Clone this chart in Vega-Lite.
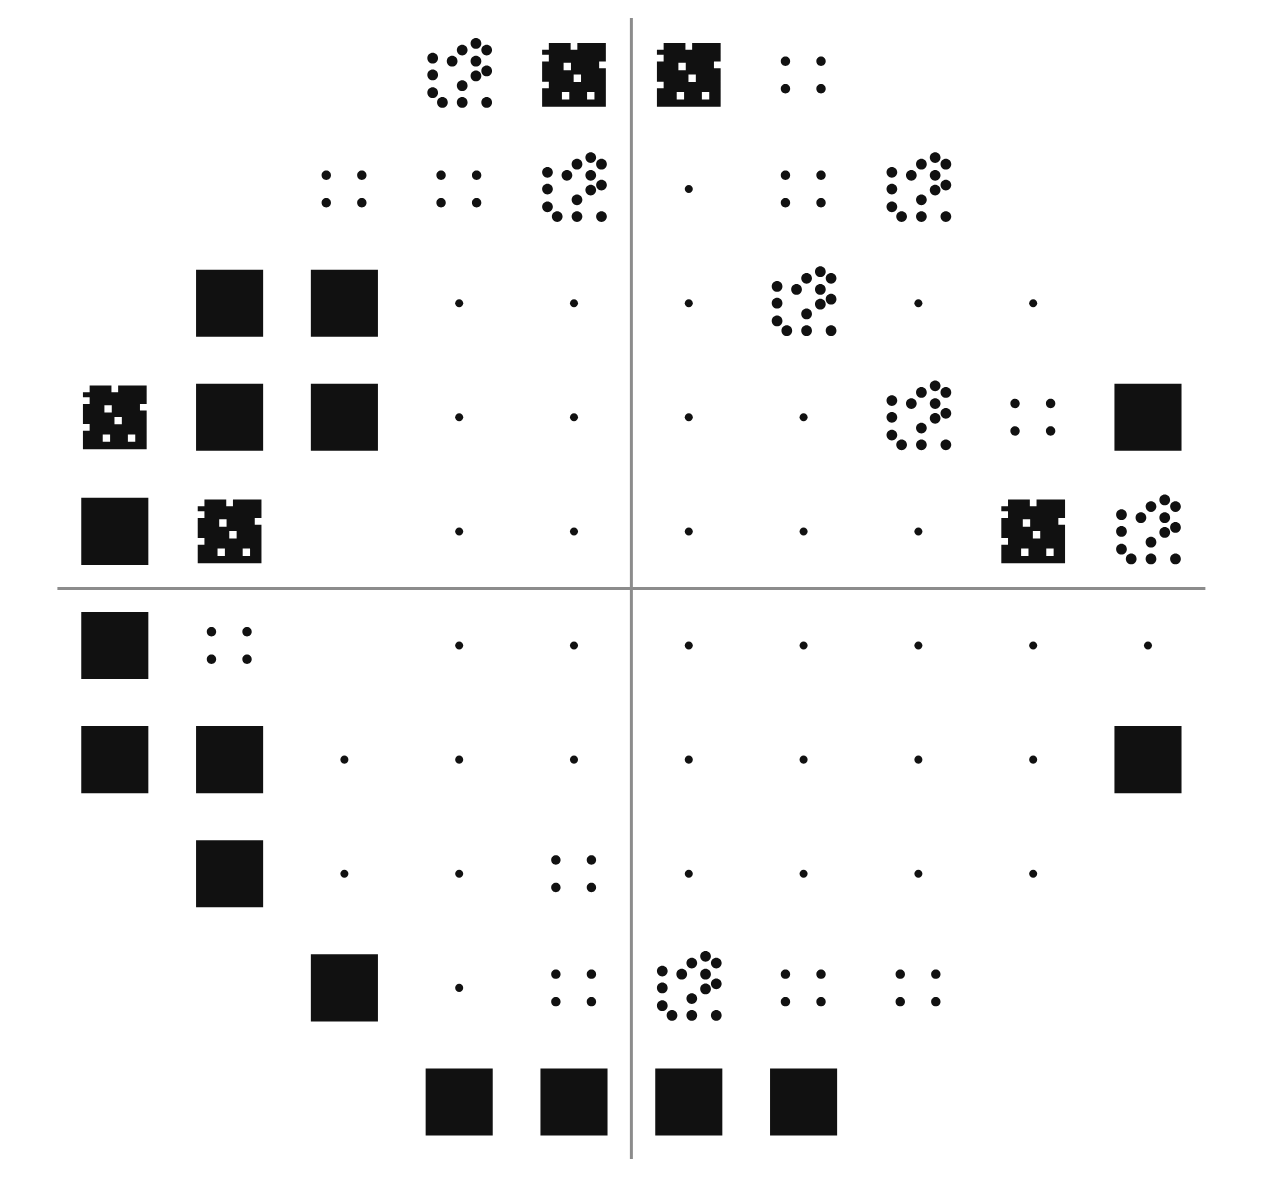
{
  "$schema": "https://vega.github.io/schema/vega-lite/v6.json",
  "width": 1280,
  "height": 1199,
  "autosize": {"type": "fit", "contains": "padding"},
  "padding": 0,
  "background": "white",
  "config": {"view": {"stroke": null}},
  "layer": [
    {
      "data": {"values": [{"x": 0, "y": -30, "x2": 0, "y2": 30}, {"x": -30, "y": 0, "x2": 30, "y2": 0}]},
      "mark": {"type": "rule", "color": "#8c8c8c", "strokeWidth": 3},
      "encoding": {
        "x": {"field": "x", "type": "quantitative", "scale": {"domain": [-33.0, 33.9], "nice": false, "zero": false}, "axis": null},
        "y": {"field": "y", "type": "quantitative", "scale": {"domain": [-32.1, 30.94], "nice": false, "zero": false}, "axis": null},
        "x2": {"field": "x2"},
        "y2": {"field": "y2"}
      }
    },
    {
      "data": {
        "values": [
          {"x": -9, "y": 27, "p": "b"}, {"x": -3, "y": 27, "p": "c"}, {"x": 3, "y": 27, "p": "c"}, {"x": 9, "y": 27, "p": "a"},
          {"x": -15, "y": 21, "p": "a"}, {"x": -9, "y": 21, "p": "a"}, {"x": -3, "y": 21, "p": "b"}, {"x": 3, "y": 21, "p": "n"}, {"x": 9, "y": 21, "p": "a"}, {"x": 15, "y": 21, "p": "b"},
          {"x": -21, "y": 15, "p": "d"}, {"x": -15, "y": 15, "p": "d"}, {"x": -9, "y": 15, "p": "n"}, {"x": -3, "y": 15, "p": "n"}, {"x": 3, "y": 15, "p": "n"}, {"x": 9, "y": 15, "p": "b"}, {"x": 15, "y": 15, "p": "n"}, {"x": 21, "y": 15, "p": "n"},
          {"x": -27, "y": 9, "p": "c"}, {"x": -21, "y": 9, "p": "d"}, {"x": -15, "y": 9, "p": "d"}, {"x": -9, "y": 9, "p": "n"}, {"x": -3, "y": 9, "p": "n"}, {"x": 3, "y": 9, "p": "n"}, {"x": 9, "y": 9, "p": "n"}, {"x": 15, "y": 9, "p": "b"}, {"x": 21, "y": 9, "p": "a"}, {"x": 27, "y": 9, "p": "d"},
          {"x": -27, "y": 3, "p": "d"}, {"x": -21, "y": 3, "p": "c"}, {"x": -9, "y": 3, "p": "n"}, {"x": -3, "y": 3, "p": "n"}, {"x": 3, "y": 3, "p": "n"}, {"x": 9, "y": 3, "p": "n"}, {"x": 15, "y": 3, "p": "n"}, {"x": 21, "y": 3, "p": "c"}, {"x": 27, "y": 3, "p": "b"},
          {"x": -27, "y": -3, "p": "d"}, {"x": -21, "y": -3, "p": "a"}, {"x": -9, "y": -3, "p": "n"}, {"x": -3, "y": -3, "p": "n"}, {"x": 3, "y": -3, "p": "n"}, {"x": 9, "y": -3, "p": "n"}, {"x": 15, "y": -3, "p": "n"}, {"x": 21, "y": -3, "p": "n"}, {"x": 27, "y": -3, "p": "n"},
          {"x": -27, "y": -9, "p": "d"}, {"x": -21, "y": -9, "p": "d"}, {"x": -15, "y": -9, "p": "n"}, {"x": -9, "y": -9, "p": "n"}, {"x": -3, "y": -9, "p": "n"}, {"x": 3, "y": -9, "p": "n"}, {"x": 9, "y": -9, "p": "n"}, {"x": 15, "y": -9, "p": "n"}, {"x": 21, "y": -9, "p": "n"}, {"x": 27, "y": -9, "p": "d"},
          {"x": -21, "y": -15, "p": "d"}, {"x": -15, "y": -15, "p": "n"}, {"x": -9, "y": -15, "p": "n"}, {"x": -3, "y": -15, "p": "a"}, {"x": 3, "y": -15, "p": "n"}, {"x": 9, "y": -15, "p": "n"}, {"x": 15, "y": -15, "p": "n"}, {"x": 21, "y": -15, "p": "n"},
          {"x": -15, "y": -21, "p": "d"}, {"x": -9, "y": -21, "p": "n"}, {"x": -3, "y": -21, "p": "a"}, {"x": 3, "y": -21, "p": "b"}, {"x": 9, "y": -21, "p": "a"}, {"x": 15, "y": -21, "p": "a"},
          {"x": -9, "y": -27, "p": "d"}, {"x": -3, "y": -27, "p": "d"}, {"x": 3, "y": -27, "p": "d"}, {"x": 9, "y": -27, "p": "d"}
        ]
      },
      "mark": {"type": "point", "filled": true, "color": "#111111", "opacity": 1, "size": 4500, "strokeWidth": 0},
      "encoding": {
        "x": {"field": "x", "type": "quantitative", "axis": null},
        "y": {"field": "y", "type": "quantitative", "axis": null},
        "shape": {
          "field": "p",
          "type": "nominal",
          "legend": null,
          "scale": {
            "domain": ["n", "a", "b", "c", "d"],
            "range": [
              "M-0.12,0a0.12,0.12 0 1,0 0.24,0a0.12,0.12 0 1,0 -0.24,0Z",
              "M-0.68,-0.41a0.14,0.14 0 1,0 0.28,0a0.14,0.14 0 1,0 -0.28,0Z M0.38,-0.41a0.14,0.14 0 1,0 0.28,0a0.14,0.14 0 1,0 -0.28,0Z M-0.68,0.41a0.14,0.14 0 1,0 0.28,0a0.14,0.14 0 1,0 -0.28,0Z M0.38,0.41a0.14,0.14 0 1,0 0.28,0a0.14,0.14 0 1,0 -0.28,0Z",
              "M0.34,-0.94a0.16,0.16 0 1,0 0.32,0a0.16,0.16 0 1,0 -0.32,0Z M-0.07,-0.74a0.16,0.16 0 1,0 0.32,0a0.16,0.16 0 1,0 -0.32,0Z M0.66,-0.74a0.16,0.16 0 1,0 0.32,0a0.16,0.16 0 1,0 -0.32,0Z M-0.37,-0.41a0.16,0.16 0 1,0 0.32,0a0.16,0.16 0 1,0 -0.32,0Z M0.34,-0.41a0.16,0.16 0 1,0 0.32,0a0.16,0.16 0 1,0 -0.32,0Z M-0.95,-0.5a0.16,0.16 0 1,0 0.32,0a0.16,0.16 0 1,0 -0.32,0Z M-0.95,0a0.16,0.16 0 1,0 0.32,0a0.16,0.16 0 1,0 -0.32,0Z M0.66,-0.12a0.16,0.16 0 1,0 0.32,0a0.16,0.16 0 1,0 -0.32,0Z M0.34,0.03a0.16,0.16 0 1,0 0.32,0a0.16,0.16 0 1,0 -0.32,0Z M-0.07,0.32a0.16,0.16 0 1,0 0.32,0a0.16,0.16 0 1,0 -0.32,0Z M-0.95,0.53a0.16,0.16 0 1,0 0.32,0a0.16,0.16 0 1,0 -0.32,0Z M-0.66,0.82a0.16,0.16 0 1,0 0.32,0a0.16,0.16 0 1,0 -0.32,0Z M-0.07,0.82a0.16,0.16 0 1,0 0.32,0a0.16,0.16 0 1,0 -0.32,0Z M0.66,0.82a0.16,0.16 0 1,0 0.32,0a0.16,0.16 0 1,0 -0.32,0Z",
              "M-0.95,-0.95H0.95V0.95H-0.95Z M-0.01,-0.01V0.21H0.21V-0.01Z M-0.36,0.51V0.73H-0.14V0.51Z M0.39,0.51V0.73H0.61V0.51Z M-0.31,-0.36V-0.14H-0.09V-0.36Z M-0.95,-0.6V-0.4H-0.75V-0.6Z M-0.95,0.2V0.4H-0.75V0.2Z M-0.1,-0.95V-0.75H0.1V-0.95Z M0.75,-0.4V-0.2H0.95V-0.4Z M-0.95,-0.95V-0.75H-0.75V-0.95Z",
              "square"
            ]
          }
        }
      }
    }
  ]
}
